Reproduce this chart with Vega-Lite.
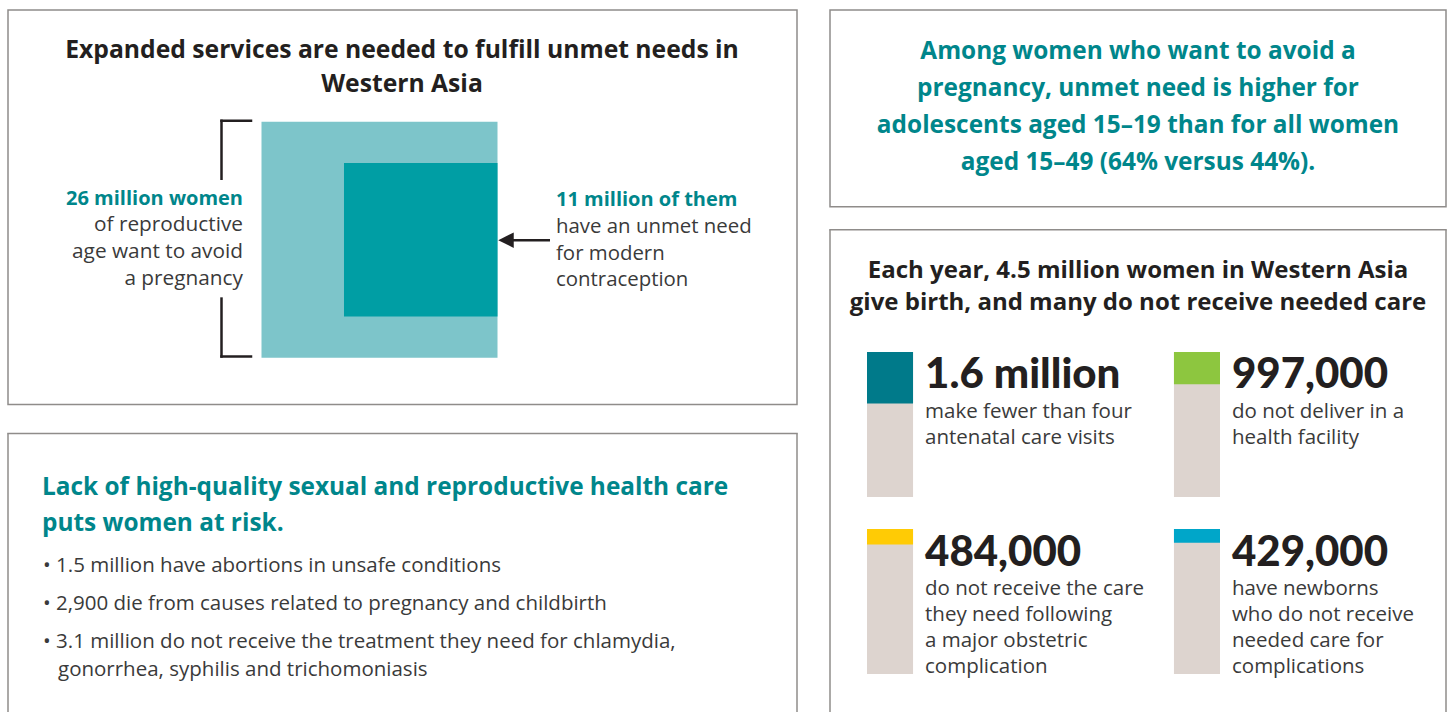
{
  "$schema": "https://vega.github.io/schema/vega-lite/v6.json",
  "width": 1448,
  "height": 713,
  "autosize": {"type": "fit", "contains": "padding"},
  "padding": 0,
  "background": "white",
  "config": {"view": {"stroke": null}, "axis": {"disable": true}, "text": {"font": "Open Sans"}},
  "datasets": {
    "squares": [
      {"group": "26 million women of reproductive age want to avoid a pregnancy", "value": 26},
      {"group": "11 million of them have an unmet need for modern contraception", "value": 11}
    ],
    "births": [
      {"label": "1.6 million", "value": 1.6, "total": 4.5, "desc": ["make fewer than four", "antenatal care visits"]},
      {"label": "997,000", "value": 0.997, "total": 4.5, "desc": ["do not deliver in a", "health facility"]},
      {"label": "484,000", "value": 0.484, "total": 4.5, "desc": ["do not receive the care", "they need following", "a major obstetric", "complication"]},
      {"label": "429,000", "value": 0.429, "total": 4.5, "desc": ["have newborns", "who do not receive", "needed care for", "complications"]}
    ]
  },
  "resolve": {"scale": {"x": "independent", "y": "independent", "color": "independent", "size": "independent"}},
  "layer": [
    {
      "data": {"values": [{}]},
      "layer": [
        {"mark": {"type": "rect", "filled": false, "stroke": "#8f8c8a", "strokeWidth": 1.5},
         "encoding": {"x": {"datum": 8, "scale": {"domain": [0, 1448], "nice": false, "zero": false}}, "x2": {"datum": 797}, "y": {"datum": 10, "scale": {"domain": [0, 713], "nice": false, "zero": false, "reverse": true}}, "y2": {"datum": 405}}},
        {"mark": {"type": "rect", "filled": false, "stroke": "#8f8c8a", "strokeWidth": 1.5},
         "encoding": {"x": {"datum": 830, "scale": {"domain": [0, 1448], "nice": false, "zero": false}}, "x2": {"datum": 1446}, "y": {"datum": 10, "scale": {"domain": [0, 713], "nice": false, "zero": false, "reverse": true}}, "y2": {"datum": 207}}},
        {"mark": {"type": "rule", "stroke": "#8f8c8a", "strokeWidth": 1.5, "strokeCap": "square"},
         "encoding": {"x": {"datum": 8, "scale": {"domain": [0, 1448], "nice": false, "zero": false}}, "x2": {"datum": 797}, "y": {"datum": 434, "scale": {"domain": [0, 713], "nice": false, "zero": false, "reverse": true}}}},
        {"mark": {"type": "rule", "stroke": "#8f8c8a", "strokeWidth": 1.5},
         "encoding": {"x": {"datum": 8, "scale": {"domain": [0, 1448], "nice": false, "zero": false}}, "y": {"datum": 434, "scale": {"domain": [0, 713], "nice": false, "zero": false, "reverse": true}}, "y2": {"datum": 713}}},
        {"mark": {"type": "rule", "stroke": "#8f8c8a", "strokeWidth": 1.5},
         "encoding": {"x": {"datum": 797, "scale": {"domain": [0, 1448], "nice": false, "zero": false}}, "y": {"datum": 434, "scale": {"domain": [0, 713], "nice": false, "zero": false, "reverse": true}}, "y2": {"datum": 713}}},
        {"mark": {"type": "rule", "stroke": "#8f8c8a", "strokeWidth": 1.5, "strokeCap": "square"},
         "encoding": {"x": {"datum": 830, "scale": {"domain": [0, 1448], "nice": false, "zero": false}}, "x2": {"datum": 1446}, "y": {"datum": 230, "scale": {"domain": [0, 713], "nice": false, "zero": false, "reverse": true}}}},
        {"mark": {"type": "rule", "stroke": "#8f8c8a", "strokeWidth": 1.5},
         "encoding": {"x": {"datum": 830, "scale": {"domain": [0, 1448], "nice": false, "zero": false}}, "y": {"datum": 230, "scale": {"domain": [0, 713], "nice": false, "zero": false, "reverse": true}}, "y2": {"datum": 713}}},
        {"mark": {"type": "rule", "stroke": "#8f8c8a", "strokeWidth": 1.5},
         "encoding": {"x": {"datum": 1446, "scale": {"domain": [0, 1448], "nice": false, "zero": false}}, "y": {"datum": 230, "scale": {"domain": [0, 713], "nice": false, "zero": false, "reverse": true}}, "y2": {"datum": 713}}},

        {"mark": {"type": "rule", "stroke": "#231f20", "strokeWidth": 2.5, "strokeCap": "square"},
         "encoding": {"x": {"datum": 221.5, "scale": {"domain": [0, 1448], "nice": false, "zero": false}}, "y": {"datum": 121, "scale": {"domain": [0, 713], "nice": false, "zero": false, "reverse": true}}, "y2": {"datum": 179}}},
        {"mark": {"type": "rule", "stroke": "#231f20", "strokeWidth": 2.5, "strokeCap": "square"},
         "encoding": {"x": {"datum": 221.5, "scale": {"domain": [0, 1448], "nice": false, "zero": false}}, "y": {"datum": 299, "scale": {"domain": [0, 713], "nice": false, "zero": false, "reverse": true}}, "y2": {"datum": 357}}},
        {"mark": {"type": "rule", "stroke": "#231f20", "strokeWidth": 2.5, "strokeCap": "square"},
         "encoding": {"x": {"datum": 221.5, "scale": {"domain": [0, 1448], "nice": false, "zero": false}}, "x2": {"datum": 251}, "y": {"datum": 121, "scale": {"domain": [0, 713], "nice": false, "zero": false, "reverse": true}}}},
        {"mark": {"type": "rule", "stroke": "#231f20", "strokeWidth": 2.5, "strokeCap": "square"},
         "encoding": {"x": {"datum": 221.5, "scale": {"domain": [0, 1448], "nice": false, "zero": false}}, "x2": {"datum": 251}, "y": {"datum": 357, "scale": {"domain": [0, 713], "nice": false, "zero": false, "reverse": true}}}},
        {"mark": {"type": "rule", "stroke": "#231f20", "strokeWidth": 2.5},
         "encoding": {"x": {"datum": 505, "scale": {"domain": [0, 1448], "nice": false, "zero": false}}, "x2": {"datum": 550}, "y": {"datum": 240.5, "scale": {"domain": [0, 713], "nice": false, "zero": false, "reverse": true}}}},
        {"mark": {"type": "point", "shape": "M-1,0L1,-1L1,1Z", "filled": true, "opacity": 1, "color": "#231f20", "size": 240, "strokeWidth": 0},
         "encoding": {"x": {"datum": 506, "scale": {"domain": [0, 1448], "nice": false, "zero": false}}, "y": {"datum": 240.5, "scale": {"domain": [0, 713], "nice": false, "zero": false, "reverse": true}}}},

        {"mark": {"type": "text", "text": ["Expanded services are needed to fulfill unmet needs in", "Western Asia"], "align": "center", "baseline": "alphabetic", "fontSize": 24.7, "fontWeight": "bold", "lineHeight": 33.4, "color": "#231f20", "font": "Open Sans"},
         "encoding": {"x": {"datum": 402, "scale": {"domain": [0, 1448], "nice": false, "zero": false}}, "y": {"datum": 58.3, "scale": {"domain": [0, 713], "nice": false, "zero": false, "reverse": true}}}},
        {"mark": {"type": "text", "text": "26 million women", "align": "right", "baseline": "alphabetic", "fontSize": 20, "fontWeight": "bold", "color": "#00868b", "font": "Open Sans"},
         "encoding": {"x": {"datum": 243, "scale": {"domain": [0, 1448], "nice": false, "zero": false}}, "y": {"datum": 205, "scale": {"domain": [0, 713], "nice": false, "zero": false, "reverse": true}}}},
        {"mark": {"type": "text", "text": ["of reproductive", "age want to avoid", "a pregnancy"], "align": "right", "baseline": "alphabetic", "fontSize": 20.8, "lineHeight": 26.6, "color": "#3a3a3a", "font": "Open Sans"},
         "encoding": {"x": {"datum": 243, "scale": {"domain": [0, 1448], "nice": false, "zero": false}}, "y": {"datum": 231.7, "scale": {"domain": [0, 713], "nice": false, "zero": false, "reverse": true}}}},
        {"mark": {"type": "text", "text": "11 million of them", "align": "left", "baseline": "alphabetic", "fontSize": 20, "fontWeight": "bold", "color": "#00868b", "font": "Open Sans"},
         "encoding": {"x": {"datum": 556, "scale": {"domain": [0, 1448], "nice": false, "zero": false}}, "y": {"datum": 206.7, "scale": {"domain": [0, 713], "nice": false, "zero": false, "reverse": true}}}},
        {"mark": {"type": "text", "text": ["have an unmet need", "for modern", "contraception"], "align": "left", "baseline": "alphabetic", "fontSize": 20.4, "lineHeight": 26.7, "color": "#3a3a3a", "font": "Open Sans"},
         "encoding": {"x": {"datum": 556, "scale": {"domain": [0, 1448], "nice": false, "zero": false}}, "y": {"datum": 233.3, "scale": {"domain": [0, 713], "nice": false, "zero": false, "reverse": true}}}},

        {"mark": {"type": "text", "text": ["Lack of high-quality sexual and reproductive health care", "puts women at risk."], "align": "left", "baseline": "alphabetic", "fontSize": 24.4, "fontWeight": "bold", "lineHeight": 35.7, "color": "#00868b", "font": "Open Sans"},
         "encoding": {"x": {"datum": 42, "scale": {"domain": [0, 1448], "nice": false, "zero": false}}, "y": {"datum": 496, "scale": {"domain": [0, 713], "nice": false, "zero": false, "reverse": true}}}},
        {"mark": {"type": "text", "text": ["• 1.5 million have abortions in unsafe conditions", "• 2,900 die from causes related to pregnancy and childbirth", "• 3.1 million do not receive the treatment they need for chlamydia,"], "align": "left", "baseline": "alphabetic", "fontSize": 20.5, "lineHeight": 38.3, "color": "#3a3a3a", "font": "Open Sans"},
         "encoding": {"x": {"datum": 43, "scale": {"domain": [0, 1448], "nice": false, "zero": false}}, "y": {"datum": 572.7, "scale": {"domain": [0, 713], "nice": false, "zero": false, "reverse": true}}}},
        {"mark": {"type": "text", "text": "gonorrhea, syphilis and trichomoniasis", "align": "left", "baseline": "alphabetic", "fontSize": 20.5, "color": "#3a3a3a", "font": "Open Sans"},
         "encoding": {"x": {"datum": 58, "scale": {"domain": [0, 1448], "nice": false, "zero": false}}, "y": {"datum": 677, "scale": {"domain": [0, 713], "nice": false, "zero": false, "reverse": true}}}},

        {"mark": {"type": "text", "text": ["Among women who want to avoid a", "pregnancy, unmet need is higher for", "adolescents aged 15–19 than for all women", "aged 15–49 (64% versus 44%)."], "align": "center", "baseline": "alphabetic", "fontSize": 24.4, "fontWeight": "bold", "lineHeight": 37, "color": "#00868b", "font": "Open Sans"},
         "encoding": {"x": {"datum": 1138, "scale": {"domain": [0, 1448], "nice": false, "zero": false}}, "y": {"datum": 59.3, "scale": {"domain": [0, 713], "nice": false, "zero": false, "reverse": true}}}},
        {"mark": {"type": "text", "text": ["Each year, 4.5 million women in Western Asia", "give birth, and many do not receive needed care"], "align": "center", "baseline": "alphabetic", "fontSize": 24, "fontWeight": "bold", "lineHeight": 32, "color": "#231f20", "font": "Open Sans"},
         "encoding": {"x": {"datum": 1138, "scale": {"domain": [0, 1448], "nice": false, "zero": false}}, "y": {"datum": 278, "scale": {"domain": [0, 713], "nice": false, "zero": false, "reverse": true}}}}
      ]
    },
    {
      "data": {"name": "squares"},
      "mark": {"type": "point", "shape": "M-2,-1L0,-1L0,1L-2,1Z", "filled": true, "opacity": 1, "strokeWidth": 0},
      "encoding": {
        "x": {"datum": 497.5, "scale": {"domain": [0, 1448], "nice": false, "zero": false}},
        "y": {"datum": 240, "scale": {"domain": [0, 713], "nice": false, "zero": false, "reverse": true}},
        "size": {"field": "value", "type": "quantitative", "scale": {"domain": [0, 26], "range": [0, 55696]}, "legend": null},
        "color": {"field": "group", "type": "nominal", "sort": null, "scale": {"domain": ["26 million women of reproductive age want to avoid a pregnancy", "11 million of them have an unmet need for modern contraception"], "range": ["#7dc5ca", "#009ea4"]}, "legend": null}
      }
    },
    {
      "data": {"name": "births"},
      "transform": [{"filter": {"field": "label", "oneOf": ["1.6 million", "997,000"]}}],
      "encoding": {
        "x": {"field": "label", "type": "nominal", "sort": null, "scale": {"range": [867, 1220], "paddingInner": 0.85, "paddingOuter": 0}}
      },
      "layer": [
        {"mark": {"type": "bar", "color": "#ddd4cf"},
         "encoding": {"y": {"field": "total", "type": "quantitative", "scale": {"domain": [0, 4.5], "range": [352, 497], "nice": false, "zero": true}}}},
        {"mark": {"type": "bar"},
         "encoding": {"y": {"field": "value", "type": "quantitative"},
                      "color": {"field": "label", "type": "nominal", "scale": {"domain": ["1.6 million", "997,000", "484,000", "429,000"], "range": ["#007a8a", "#8dc63f", "#ffcb05", "#00a6c9"]}, "legend": null}}},
        {"mark": {"type": "text", "align": "left", "baseline": "alphabetic", "dx": 35, "dy": 36, "fontSize": 42, "fontWeight": 900, "color": "#231f20", "font": "Lato"},
         "encoding": {"y": {"datum": 0}, "text": {"field": "label", "type": "nominal"}}},
        {"mark": {"type": "text", "align": "left", "baseline": "alphabetic", "dx": 35, "dy": 65.5, "fontSize": 20.5, "lineHeight": 26, "color": "#3a3a3a", "font": "Open Sans"},
         "encoding": {"y": {"datum": 0}, "text": {"field": "desc", "type": "nominal"}}}
      ]
    },
    {
      "data": {"name": "births"},
      "transform": [{"filter": {"field": "label", "oneOf": ["484,000", "429,000"]}}],
      "encoding": {
        "x": {"field": "label", "type": "nominal", "sort": null, "scale": {"range": [867, 1220], "paddingInner": 0.85, "paddingOuter": 0}}
      },
      "layer": [
        {"mark": {"type": "bar", "color": "#ddd4cf"},
         "encoding": {"y": {"field": "total", "type": "quantitative", "scale": {"domain": [0, 4.5], "range": [529, 674], "nice": false, "zero": true}}}},
        {"mark": {"type": "bar"},
         "encoding": {"y": {"field": "value", "type": "quantitative"},
                      "color": {"field": "label", "type": "nominal", "scale": {"domain": ["1.6 million", "997,000", "484,000", "429,000"], "range": ["#007a8a", "#8dc63f", "#ffcb05", "#00a6c9"]}, "legend": null}}},
        {"mark": {"type": "text", "align": "left", "baseline": "alphabetic", "dx": 35, "dy": 36.5, "fontSize": 42, "fontWeight": 900, "color": "#231f20", "font": "Lato"},
         "encoding": {"y": {"datum": 0}, "text": {"field": "label", "type": "nominal"}}},
        {"mark": {"type": "text", "align": "left", "baseline": "alphabetic", "dx": 35, "dy": 65.5, "fontSize": 20.5, "lineHeight": 26.3, "color": "#3a3a3a", "font": "Open Sans"},
         "encoding": {"y": {"datum": 0}, "text": {"field": "desc", "type": "nominal"}}}
      ]
    }
  ]
}
